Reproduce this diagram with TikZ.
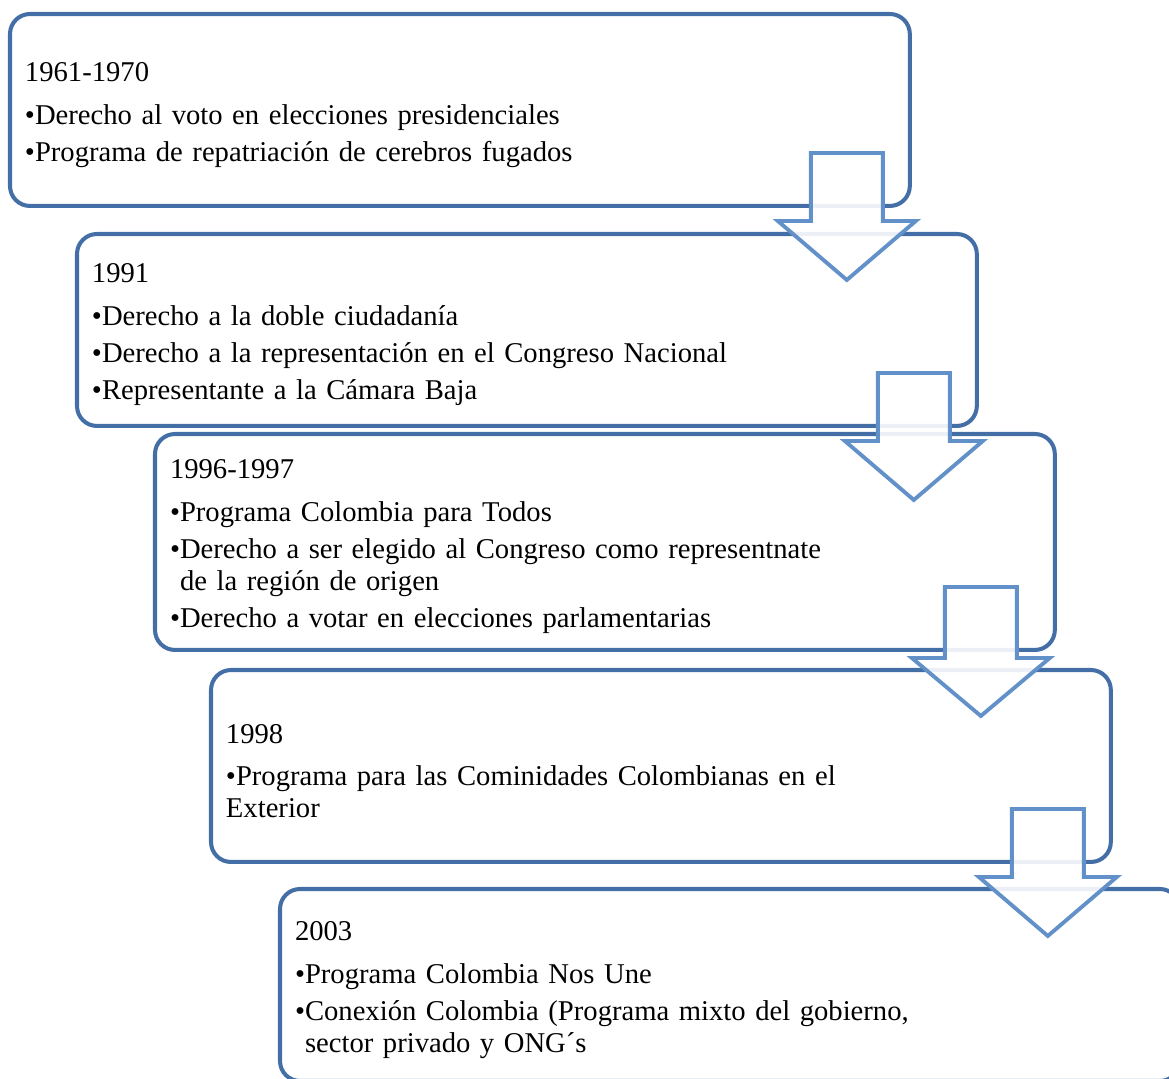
\documentclass[tikz,border=0pt]{standalone}
\usepackage{fontspec}
\setmainfont{Liberation Serif}
\usetikzlibrary{positioning}

\definecolor{boxblue}{RGB}{68,110,166}
\definecolor{arrowblue}{RGB}{98,144,200}

\newlength\bulw
\newcommand{\hdr}[1]{\rule{0pt}{16.5pt}#1\par\vspace{3pt}}
\newcommand{\itm}[1]{\par\vspace{3pt}•#1\par}
\newcommand{\cont}{\newline\settowidth{\bulw}{•}\hspace*{\bulw}}

\tikzset{
  stage/.style={draw=boxblue, line width=2.3pt, rounded corners=0.4cm, anchor=north west,
    outer sep=0pt, minimum width=18cm, minimum height=3.84cm, inner xsep=0.3cm,
    text width=17.4cm, align=left, font=\fontsize{16.3}{18.2}\selectfont},
  downarrow/.style={draw=arrowblue, line width=2.2pt, fill=white, fill opacity=0.9, line join=miter}
}

\begin{document}
\begin{tikzpicture}[x=0.02cm, y=-0.02cm]
\useasboundingbox (0,0) rectangle (1169,1078);
\clip (0,0) rectangle (1169,1078);

% stages
\node[stage] (b1) at (10,14) {\hdr{1961-1970}
  \itm{Derecho al voto en elecciones presidenciales}
  \itm{Programa de repatriación de cerebros fugados}};

\node[stage] (b2) at (77,234) {\hdr{1991}
  \itm{Derecho a la doble ciudadanía}
  \itm{Derecho a la representación en el Congreso Nacional}
  \itm{Representante a la Cámara Baja}};

\node[stage, minimum height=4.32cm] (b3) at (155,434) {\hdr{1996-1997}
  \itm{Programa Colombia para Todos}
  \itm{Derecho a ser elegido al Congreso como representnate\cont de la región de origen}
  \itm{Derecho a votar en elecciones parlamentarias}};

\node[stage] (b4) at (211,670) {\hdr{1998}
  \itm{Programa para las Cominidades Colombianas en el\newline Exterior}};

\node[stage] (b5) at (280,889) {\hdr{2003}
  \itm{Programa Colombia Nos Une}
  \itm{Conexión Colombia (Programa mixto del gobierno,\cont sector privado y ONG´s}};

% arrows between stages
\draw[downarrow, shift={(b1.south east)}] (-99,-53) -- (-27,-53) -- (-27,15) -- (6,15) -- (-63,74) -- (-132,15) -- (-99,15) -- cycle;
\draw[downarrow, shift={(b2.south east)}] (-99,-53) -- (-27,-53) -- (-27,15) -- (6,15) -- (-63,74) -- (-132,15) -- (-99,15) -- cycle;
\draw[downarrow, shift={(b3.south east)}] (-110,-63) -- (-38,-63) -- (-38,8) -- (-5,8) -- (-74,66) -- (-143,8) -- (-110,8) -- cycle;
\draw[downarrow, shift={(b4.south east)}] (-99,-53) -- (-27,-53) -- (-27,15) -- (6,15) -- (-63,74) -- (-132,15) -- (-99,15) -- cycle;

\end{tikzpicture}
\end{document}
